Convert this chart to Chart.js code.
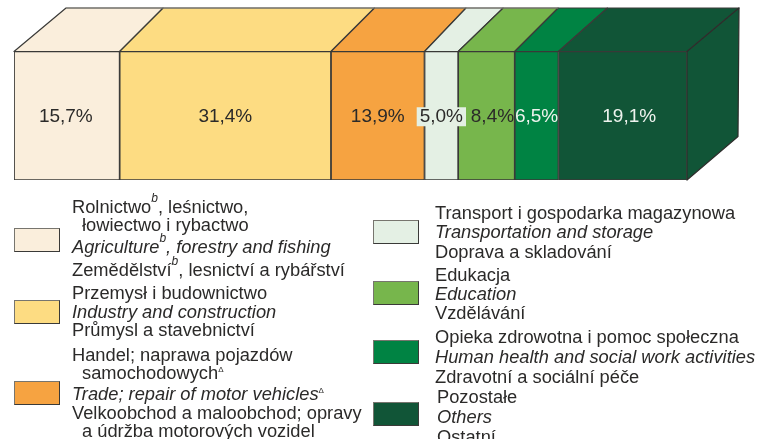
<!DOCTYPE html>
<html lang="pl">
<head>
<meta charset="utf-8">
<title>Struktura</title>
<script src="https://cdn.jsdelivr.net/npm/chart.js@4/dist/chart.umd.min.js"></script>
<style>
html,body{margin:0;padding:0;background:#fff;width:774px;height:439px;overflow:hidden}
#wrap{position:relative;width:774px;height:439px;overflow:hidden}
canvas{position:absolute;left:0;top:0}
.t{position:absolute;font:18.3px "Liberation Sans",Arial,sans-serif;color:#2b2a29;white-space:nowrap;line-height:20px;transform:translateY(-50%)}
.t.i{font-style:italic}
.t sup{font-size:12px;line-height:0;font-style:italic;vertical-align:baseline;position:relative;top:-11px}
.t sup.d{font-size:8px;font-style:normal;top:-7px}
.s{position:absolute;box-sizing:border-box;border:1.3px solid #3a3a38;border-left-color:#77756e;border-top-color:#77756e}
</style>
</head>
<body>
<div id="wrap"><canvas id="c" width="774" height="439"></canvas></div>
<script>
// ---- data ----
const categories = ["Rolnictwo","Przemysł i budownictwo","Handel","Transport","Edukacja","Opieka zdrowotna","Pozostałe"];
const shares = [15.7, 31.4, 13.9, 5.0, 8.4, 6.5, 19.1];
const shareLabels = ["15,7%","31,4%","13,9%","5,0%","8,4%","6,5%","19,1%"];
const colors = ["#FAEEDC","#FDDC82","#F6A341","#E4F0E4","#77B64C","#008343","#115537"];
const labelColors = ["#2b2a29","#2b2a29","#2b2a29","#2b2a29","#2b2a29","#eef3ee","#eef3ee"];
const legendAgriculture = ["Rolnictwo^b, leśnictwo,","~łowiectwo i rybactwo","/Agriculture^b, forestry and fishing","Zemědělství^b, lesnictví a rybářství"];
const legendIndustry = ["Przemysł i budownictwo","/Industry and construction","Průmysl a stavebnictví"];
const legendTrade = ["Handel; naprawa pojazdów","~samochodowych^Δ","/Trade; repair of motor vehicles^Δ","Velkoobchod a maloobchod; opravy","~a údržba motorových vozidel"];
const legendTransport = ["Transport i gospodarka magazynowa","/Transportation and storage","Doprava a skladování"];
const legendEducation = ["Edukacja","/Education","Vzdělávání"];
const legendHealth = ["Opieka zdrowotna i pomoc społeczna","/Human health and social work activities","Zdravotní a sociální péče"];
const legendOthers = ["Pozostałe","/Others","Ostatní"];

// ---- layout (not data) ----
const depthY = 43.5;
const topSkew = [52,43.5,43.5,41.5,45,43.5,49,52];
const labelShift = [-1,0,0,0,6,0,6.5];
const legendLayout = [
 {lines:legendAgriculture,x:72,ys:[207,225,247,270],sw:[14,228,46,24]},
 {lines:legendIndustry,x:72,ys:[293,312,330],sw:[14,300,46,24]},
 {lines:legendTrade,x:72,ys:[355,373,394,413,431],sw:[14,381,46,24]},
 {lines:legendTransport,x:435,ys:[213,232,252],sw:[373,220,46,24]},
 {lines:legendEducation,x:435,ys:[275,294,313],sw:[373,281,46,24]},
 {lines:legendHealth,x:435,ys:[337,357,377],sw:[373,340,46,24]},
 {lines:legendOthers,x:437,ys:[397,417,437],sw:[373,402,46,24]}
];

const wrap = document.getElementById('wrap');
function esc(s){return s.replace(/&/g,'&amp;').replace(/</g,'&lt;');}
legendLayout.forEach((g,i)=>{
  const sw=document.createElement('div');
  sw.className='s';
  sw.style.cssText=`left:${g.sw[0]}px;top:${g.sw[1]}px;width:${g.sw[2]}px;height:${g.sw[3]}px;background:${colors[i]}`;
  wrap.appendChild(sw);
  g.lines.forEach((ln,k)=>{
    const d=document.createElement('div');
    let s=ln, x=g.x;
    d.className='t';
    if(s[0]==='/'){d.className='t i';s=s.slice(1);}
    if(s[0]==='~'){x+=10;s=s.slice(1);}
    d.innerHTML=esc(s).replace(/\^b/g,'<sup>b</sup>').replace(/\^Δ/g,'<sup class="d">Δ</sup>');
    d.style.left=x+'px';
    d.style.top=g.ys[k]+'px';
    wrap.appendChild(d);
  });
});

const cube = {
  id:'cube',
  beforeDatasetsDraw(chart){
    const {ctx,chartArea:a,scales:{x}}=chart;
    let cum=0;
    const edges=[x.getPixelForValue(0)];
    shares.forEach(v=>{cum+=v;edges.push(x.getPixelForValue(cum));});
    ctx.save();
    ctx.lineJoin='round';
    ctx.lineWidth=1.2;
    shares.forEach((v,i)=>{
      ctx.beginPath();
      ctx.moveTo(edges[i],a.top);
      ctx.lineTo(edges[i]+topSkew[i],a.top-depthY);
      ctx.lineTo(edges[i+1]+topSkew[i+1],a.top-depthY);
      ctx.lineTo(edges[i+1],a.top);
      ctx.closePath();
      ctx.fillStyle=colors[i];
      ctx.fill();
      ctx.strokeStyle='#3a3a38';
      ctx.stroke();
    });
    // top back edge, lighter grey
    ctx.beginPath();
    ctx.moveTo(edges[0]+topSkew[0],a.top-depthY);
    ctx.lineTo(edges[5]+topSkew[5],a.top-depthY);
    ctx.strokeStyle='#8a8780';
    ctx.stroke();
    // right side
    const r=edges[edges.length-1], sk=topSkew[topSkew.length-1];
    ctx.beginPath();
    ctx.moveTo(r,a.top);
    ctx.lineTo(r+sk,a.top-depthY);
    ctx.lineTo(r+sk-1,a.bottom-depthY);
    ctx.lineTo(r,a.bottom);
    ctx.closePath();
    ctx.fillStyle=colors[colors.length-1];
    ctx.fill();
    ctx.strokeStyle='#2d2d2b';
    ctx.stroke();
    ctx.restore();
  },
  afterDatasetsDraw(chart){
    const {ctx,chartArea:a,scales:{x}}=chart;
    let cum=0;
    ctx.save();
    ctx.font='19px "Liberation Sans",Arial,sans-serif';
    ctx.textAlign='center';
    ctx.textBaseline='middle';
    const yc=(a.top+a.bottom)/2;
    shares.forEach((v,i)=>{
      const cx=x.getPixelForValue(cum+v/2)+labelShift[i];
      cum+=v;
      if(i===3){
        const w=ctx.measureText(shareLabels[i]).width+6;
        ctx.fillStyle=colors[i];
        ctx.fillRect(cx-w/2,yc-8.5,w,19);
      }
      ctx.fillStyle=labelColors[i];
      ctx.fillText(shareLabels[i],cx,yc+1.5);
    });
    ctx.restore();
  }
};

new Chart(document.getElementById('c'),{
  type:'bar',
  plugins:[cube],
  data:{
    labels:['2020'],
    datasets:categories.map((c,i)=>({
      label:c,
      data:[shares[i]],
      backgroundColor:colors[i],
      borderColor:'#3a3a38',
      borderWidth:1.2,
      borderSkipped:false,
      barPercentage:1,
      categoryPercentage:1
    }))
  },
  options:{
    indexAxis:'y',
    responsive:false,
    animation:false,
    layout:{padding:{left:14,right:87,top:51.5,bottom:259}},
    plugins:{legend:{display:false},tooltip:{enabled:false},title:{display:false}},
    scales:{
      x:{stacked:true,min:0,max:100,display:false},
      y:{stacked:true,display:false}
    }
  }
});
</script>
</body>
</html>
